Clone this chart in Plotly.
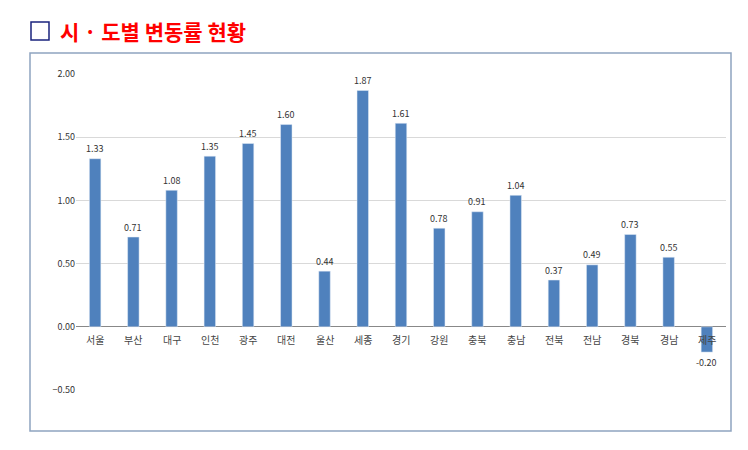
import plotly.graph_objects as go

regions = ["서울","부산","대구","인천","광주","대전","울산","세종","경기","강원","충북","충남","전북","전남","경북","경남","제주"]
values = [1.33,0.71,1.08,1.35,1.45,1.60,0.44,1.87,1.61,0.78,0.91,1.04,0.37,0.49,0.73,0.55,-0.20]
yticks = [-0.5,0,0.5,1.0,1.5,2.0]
title = "시 · 도별 변동률 현황"

W,H=748,450
L,R,T,B=68,30,66,68
pw=W-L-R; ph=H-T-B
def px(x): return (x-L)/pw
def py(y): return (H-B-y)/ph

fig=go.Figure(go.Bar(x=regions,y=values,marker_color="#4F81BD",width=0.3))
for r,v in zip(regions,values):
    fig.add_annotation(x=r,y=0,text=r,showarrow=False,yshift=-13,font=dict(size=10,color="#444"))
    fig.add_annotation(x=r,y=v,text=f"{v:.2f}",showarrow=False,yshift=10 if v>=0 else -10,
                       font=dict(size=9,color="#333"))
fig.update_layout(width=W,height=H,margin=dict(l=L,r=R,t=T,b=B,autoexpand=False),
    plot_bgcolor="white",paper_bgcolor="white",showlegend=False,
    font=dict(family="Noto Sans CJK KR"),
    xaxis=dict(showticklabels=False,showgrid=False,showline=False,range=[-0.5,16.5]),
    yaxis=dict(range=[-0.5,2.0],tickvals=yticks,tickformat=".2f",gridcolor="#d9d9d9",
               zeroline=True,zerolinecolor="#888",zerolinewidth=1,tickfont=dict(size=9,color="#333")))
fig.add_shape(type="rect",xref="paper",yref="paper",x0=px(22),x1=px(723),y0=py(45),y1=py(423),
    line=dict(color="#8ea4c0",width=1.5))
fig.add_shape(type="rect",xref="paper",yref="paper",x0=px(23),x1=px(41),y0=py(14),y1=py(32),
    line=dict(color="#1a237e",width=1.5))
fig.add_annotation(xref="paper",yref="paper",x=px(50),y=py(23),xanchor="left",yanchor="middle",
    text=f"<b>{title}</b>",showarrow=False,font=dict(size=21,color="#ff0000"))
fig.write_html("out.html")
